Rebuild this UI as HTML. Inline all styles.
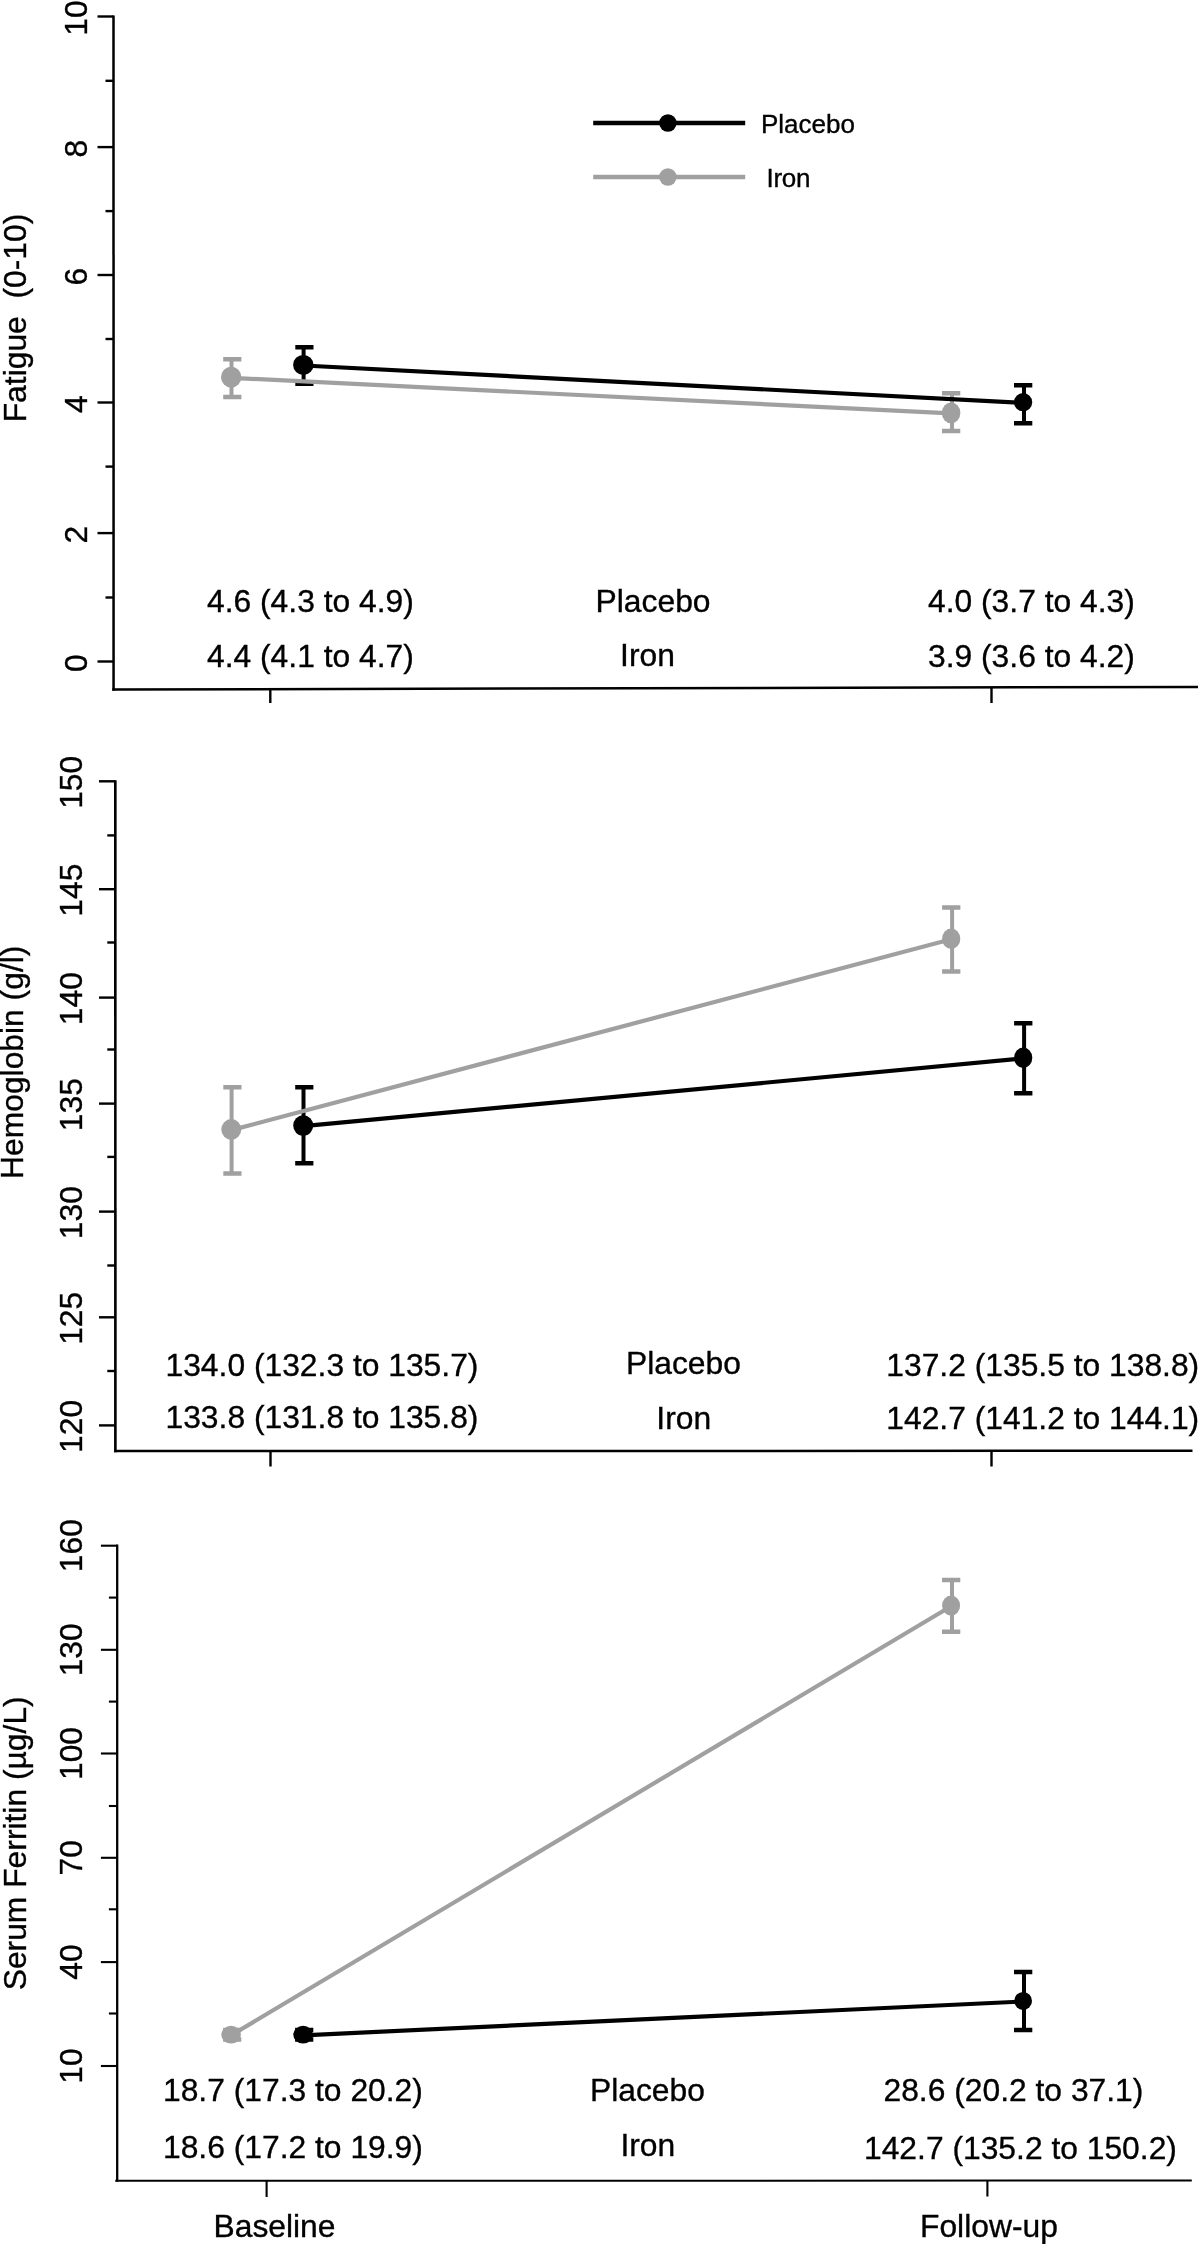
<!DOCTYPE html>
<html lang="en"><head><meta charset="utf-8"><title>Fatigue, Hemoglobin and Serum Ferritin: Placebo vs Iron</title>
<style>
html,body{margin:0;padding:0;background:#fff;}
svg{display:block;will-change:transform;opacity:0.999;}
text{font-family:"Liberation Sans",sans-serif;fill:#000;stroke:#000;stroke-width:0.35px;}
.t32{font-size:31.8px;}
.t26{font-size:26px;}
.ax{stroke:#000;stroke-width:2.6;fill:none;stroke-linecap:butt;}
.tk{stroke:#000;stroke-width:2.3;fill:none;}
</style></head><body>
<svg width="1200" height="2244" viewBox="0 0 1200 2244">
<rect x="0" y="0" width="1200" height="2244" fill="#fff"/>
<g>
<path class="ax" style="stroke-width:2.5" d="M113.5,15.4 L113.6,690.75"/>
<path class="ax" style="stroke-width:2.5" d="M112.25,689.5 L1198,686.9"/>
<path class="tk" style="stroke-width:2.4" d="M97.5,16.5 L113.5,16.5"/>
<path class="tk" style="stroke-width:2.4" d="M97.5,147.1 L113.5,147.1"/>
<path class="tk" style="stroke-width:2.4" d="M97.5,275.0 L113.5,275.0"/>
<path class="tk" style="stroke-width:2.4" d="M97.5,402.5 L113.5,402.5"/>
<path class="tk" style="stroke-width:2.4" d="M97.5,533.1 L113.5,533.1"/>
<path class="tk" style="stroke-width:2.4" d="M97.5,661.5 L113.5,661.5"/>
<path class="tk" style="stroke-width:2.4" d="M105.5,80.8 L113.5,80.8"/>
<path class="tk" style="stroke-width:2.4" d="M105.5,211.1 L113.5,211.1"/>
<path class="tk" style="stroke-width:2.4" d="M105.5,339.0 L113.5,339.0"/>
<path class="tk" style="stroke-width:2.4" d="M105.5,466.6 L113.5,466.6"/>
<path class="tk" style="stroke-width:2.4" d="M105.5,597.5 L113.5,597.5"/>
<path class="tk" style="stroke-width:2.4" d="M270.3,689 L270.3,703"/>
<path class="tk" style="stroke-width:2.4" d="M991.5,688 L991.5,703"/>
<text class="t32" text-anchor="middle" transform="translate(87.2,18.1) rotate(-90)">10</text>
<text class="t32" text-anchor="middle" transform="translate(87.2,148.7) rotate(-90)">8</text>
<text class="t32" text-anchor="middle" transform="translate(87.2,276.6) rotate(-90)">6</text>
<text class="t32" text-anchor="middle" transform="translate(87.2,404.1) rotate(-90)">4</text>
<text class="t32" text-anchor="middle" transform="translate(87.2,534.7) rotate(-90)">2</text>
<text class="t32" text-anchor="middle" transform="translate(87.2,663.1) rotate(-90)">0</text>
<text class="t32" xml:space="preserve" transform="translate(26.0,422.3) rotate(-90)">Fatigue  (0-10)</text>
<path d="M303.6,347.3 L303.6,383.7" stroke="#000" stroke-width="4.0" fill="none"/>
<path d="M295.3,347.3 L313.5,347.3 M295.3,383.7 L313.5,383.7" stroke="#000" stroke-width="4.5" fill="none"/>
<path d="M1024.0,385.3 L1024.0,423.3" stroke="#000" stroke-width="4.0" fill="none"/>
<path d="M1014.0,385.3 L1032.3,385.3 M1014.0,423.3 L1032.3,423.3" stroke="#000" stroke-width="4.5" fill="none"/>
<path d="M231.5,359.3 L231.5,397.1" stroke="#a0a0a0" stroke-width="4.0" fill="none"/>
<path d="M223.2,359.3 L241.4,359.3 M223.2,397.1 L241.4,397.1" stroke="#a0a0a0" stroke-width="4.5" fill="none"/>
<path d="M952.0,393.3 L952.0,430.9" stroke="#a0a0a0" stroke-width="4.0" fill="none"/>
<path d="M942.0,393.3 L960.3,393.3 M942.0,430.9 L960.3,430.9" stroke="#a0a0a0" stroke-width="4.5" fill="none"/>
<path d="M303.3,365.5 L1023.1,402.8" stroke="#000" stroke-width="4.2" fill="none"/>
<path d="M231.2,377.8 L951.1,413.4" stroke="#a0a0a0" stroke-width="4.2" fill="none"/>
<ellipse cx="303.3" cy="364.9" rx="10.2" ry="10.0" fill="#000"/>
<ellipse cx="1023.1" cy="402.2" rx="9.1" ry="9.1" fill="#000"/>
<ellipse cx="231.2" cy="377.2" rx="10.2" ry="10.5" fill="#a0a0a0"/>
<ellipse cx="951.1" cy="412.8" rx="9.3" ry="10.4" fill="#a0a0a0"/>
<text class="t32" x="207" y="612.4">4.6 (4.3 to 4.9)</text>
<text class="t32" x="207" y="667">4.4 (4.1 to 4.7)</text>
<text class="t32" x="595.6" y="612.2">Placebo</text>
<text class="t32" x="620.1" y="666.4">Iron</text>
<text class="t32" x="928" y="612">4.0 (3.7 to 4.3)</text>
<text class="t32" x="928" y="667">3.9 (3.6 to 4.2)</text>
<text class="t26" x="761" y="132.8">Placebo</text>
<text class="t26" x="766.6" y="187.1" style="letter-spacing:-0.35px">Iron</text>
</g>
<g>
<path d="M593.2,123 L745.2,123" stroke="#000" stroke-width="4.5"/>
<path d="M593.2,177 L745.2,177" stroke="#a0a0a0" stroke-width="4.5"/>
<circle cx="667.9" cy="123" r="8.7" fill="#000"/>
<circle cx="667.9" cy="177" r="8.7" fill="#a0a0a0"/>
</g>
<g>
<path class="ax" style="stroke-width:2.6" d="M115.3,780.2 L115.4,1452.25"/>
<path class="ax" style="stroke-width:2.5" d="M114.00,1451.0 L1192.5,1450.8"/>
<path class="tk" style="stroke-width:2.4" d="M99.0,781.3 L115.3,781.3"/>
<path class="tk" style="stroke-width:2.4" d="M99.0,889.2 L115.3,889.2"/>
<path class="tk" style="stroke-width:2.4" d="M99.0,997.6 L115.3,997.6"/>
<path class="tk" style="stroke-width:2.4" d="M99.0,1103.6 L115.3,1103.6"/>
<path class="tk" style="stroke-width:2.4" d="M99.0,1211.6 L115.3,1211.6"/>
<path class="tk" style="stroke-width:2.4" d="M99.0,1317.3 L115.3,1317.3"/>
<path class="tk" style="stroke-width:2.4" d="M99.0,1425.4 L115.3,1425.4"/>
<path class="tk" style="stroke-width:2.4" d="M107.3,835.4 L115.3,835.4"/>
<path class="tk" style="stroke-width:2.4" d="M107.3,942.5 L115.3,942.5"/>
<path class="tk" style="stroke-width:2.4" d="M107.3,1049.5 L115.3,1049.5"/>
<path class="tk" style="stroke-width:2.4" d="M107.3,1156.9 L115.3,1156.9"/>
<path class="tk" style="stroke-width:2.4" d="M107.3,1265.5 L115.3,1265.5"/>
<path class="tk" style="stroke-width:2.4" d="M107.3,1371.0 L115.3,1371.0"/>
<path class="tk" style="stroke-width:2.4" d="M270.5,1451 L270.5,1466.5"/>
<path class="tk" style="stroke-width:2.4" d="M991.5,1451 L991.5,1466.5"/>
<text class="t32" text-anchor="middle" transform="translate(81.8,782.3) rotate(-90)">150</text>
<text class="t32" text-anchor="middle" transform="translate(81.8,890.2) rotate(-90)">145</text>
<text class="t32" text-anchor="middle" transform="translate(81.8,998.6) rotate(-90)">140</text>
<text class="t32" text-anchor="middle" transform="translate(81.8,1104.6) rotate(-90)">135</text>
<text class="t32" text-anchor="middle" transform="translate(81.8,1212.6) rotate(-90)">130</text>
<text class="t32" text-anchor="middle" transform="translate(81.8,1318.3) rotate(-90)">125</text>
<text class="t32" text-anchor="middle" transform="translate(81.8,1426.4) rotate(-90)">120</text>
<text class="t32" xml:space="preserve" transform="translate(23.4,1178.9) rotate(-90)">Hemoglobin (g/l)</text>
<path d="M303.5,1087.3 L303.5,1163.3" stroke="#000" stroke-width="4.0" fill="none"/>
<path d="M295.2,1087.3 L313.4,1087.3 M295.2,1163.3 L313.4,1163.3" stroke="#000" stroke-width="4.5" fill="none"/>
<path d="M1024.1,1023.3 L1024.1,1093.3" stroke="#000" stroke-width="4.0" fill="none"/>
<path d="M1014.1,1023.3 L1032.4,1023.3 M1014.1,1093.3 L1032.4,1093.3" stroke="#000" stroke-width="4.5" fill="none"/>
<path d="M231.6,1087.3 L231.6,1173.6" stroke="#a0a0a0" stroke-width="4.0" fill="none"/>
<path d="M223.3,1087.3 L241.5,1087.3 M223.3,1173.6 L241.5,1173.6" stroke="#a0a0a0" stroke-width="4.5" fill="none"/>
<path d="M952.1,907.5 L952.1,971.5" stroke="#a0a0a0" stroke-width="4.0" fill="none"/>
<path d="M942.1,907.5 L960.4,907.5 M942.1,971.5 L960.4,971.5" stroke="#a0a0a0" stroke-width="4.5" fill="none"/>
<path d="M303.2,1126.2 L1023.2,1058.4" stroke="#000" stroke-width="4.2" fill="none"/>
<path d="M231.3,1130.1 L951.2,939.3" stroke="#a0a0a0" stroke-width="4.2" fill="none"/>
<ellipse cx="303.2" cy="1125.6" rx="10.0" ry="10.4" fill="#000"/>
<ellipse cx="1023.2" cy="1057.8" rx="9.1" ry="10.3" fill="#000"/>
<ellipse cx="231.3" cy="1129.5" rx="10.0" ry="10.4" fill="#a0a0a0"/>
<ellipse cx="951.2" cy="938.7" rx="9.1" ry="10.3" fill="#a0a0a0"/>
<text class="t32" x="165.5" y="1376.1">134.0 (132.3 to 135.7)</text>
<text class="t32" x="165.5" y="1427.7">133.8 (131.8 to 135.8)</text>
<text class="t32" x="626" y="1374.2">Placebo</text>
<text class="t32" x="656.3" y="1428.7">Iron</text>
<text class="t32" x="886.3" y="1376.3">137.2 (135.5 to 138.8)</text>
<text class="t32" x="886.3" y="1428.7">142.7 (141.2 to 144.1)</text>
</g>
<g>
<path class="ax" style="stroke-width:2.3" d="M117.2,1544.6 L117.2,2181.75"/>
<path class="ax" style="stroke-width:2.0" d="M115.25,2180.75 L1191.8,2180.6"/>
<path class="tk" style="stroke-width:2.1" d="M100.9,1545.7 L117.2,1545.7"/>
<path class="tk" style="stroke-width:2.1" d="M100.9,1649.8 L117.2,1649.8"/>
<path class="tk" style="stroke-width:2.1" d="M100.9,1753.5 L117.2,1753.5"/>
<path class="tk" style="stroke-width:2.1" d="M100.9,1857.8 L117.2,1857.8"/>
<path class="tk" style="stroke-width:2.1" d="M100.9,1962.1 L117.2,1962.1"/>
<path class="tk" style="stroke-width:2.1" d="M100.9,2066.0 L117.2,2066.0"/>
<path class="tk" style="stroke-width:2.1" d="M108.9,1597.6 L117.2,1597.6"/>
<path class="tk" style="stroke-width:2.1" d="M108.9,1701.6 L117.2,1701.6"/>
<path class="tk" style="stroke-width:2.1" d="M108.9,1806.0 L117.2,1806.0"/>
<path class="tk" style="stroke-width:2.1" d="M108.9,1909.3 L117.2,1909.3"/>
<path class="tk" style="stroke-width:2.1" d="M108.9,2013.5 L117.2,2013.5"/>
<path class="tk" style="stroke-width:2.1" d="M266.6,2180 L266.6,2197"/>
<path class="tk" style="stroke-width:2.1" d="M987.4,2180 L987.4,2196.5"/>
<text class="t32" text-anchor="middle" transform="translate(81.7,1545.7) rotate(-90)">160</text>
<text class="t32" text-anchor="middle" transform="translate(81.7,1649.8) rotate(-90)">130</text>
<text class="t32" text-anchor="middle" transform="translate(81.7,1753.5) rotate(-90)">100</text>
<text class="t32" text-anchor="middle" transform="translate(81.7,1857.8) rotate(-90)">70</text>
<text class="t32" text-anchor="middle" transform="translate(81.7,1962.1) rotate(-90)">40</text>
<text class="t32" text-anchor="middle" transform="translate(81.7,2066.0) rotate(-90)">10</text>
<text class="t32" xml:space="preserve" transform="translate(25.9,1990.3) rotate(-90)">Serum Ferritin (µg/L)</text>
<path d="M303.4,2030.0 L303.4,2039.4" stroke="#000" stroke-width="4.0" fill="none"/>
<path d="M295.1,2030.0 L313.3,2030.0 M295.1,2039.4 L313.3,2039.4" stroke="#000" stroke-width="4.5" fill="none"/>
<path d="M1024.0,1972.0 L1024.0,2030.0" stroke="#000" stroke-width="4.0" fill="none"/>
<path d="M1014.0,1972.0 L1032.3,1972.0 M1014.0,2030.0 L1032.3,2030.0" stroke="#000" stroke-width="4.5" fill="none"/>
<path d="M231.4,2030.0 L231.4,2039.4" stroke="#a0a0a0" stroke-width="4.0" fill="none"/>
<path d="M223.1,2030.0 L241.3,2030.0 M223.1,2039.4 L241.3,2039.4" stroke="#a0a0a0" stroke-width="4.5" fill="none"/>
<path d="M952.0,1580.0 L952.0,1631.7" stroke="#a0a0a0" stroke-width="4.0" fill="none"/>
<path d="M942.0,1580.0 L960.3,1580.0 M942.0,1631.7 L960.3,1631.7" stroke="#a0a0a0" stroke-width="4.5" fill="none"/>
<path d="M303.1,2035.3 L1023.1,2001.5" stroke="#000" stroke-width="4.2" fill="none"/>
<path d="M231.1,2035.3 L951.1,1606.2" stroke="#a0a0a0" stroke-width="4.2" fill="none"/>
<ellipse cx="303.1" cy="2034.7" rx="9.8" ry="8.9" fill="#000"/>
<ellipse cx="1023.1" cy="2000.9" rx="8.9" ry="9.0" fill="#000"/>
<ellipse cx="231.1" cy="2034.7" rx="9.8" ry="8.9" fill="#a0a0a0"/>
<ellipse cx="951.1" cy="1605.6" rx="9.0" ry="10.0" fill="#a0a0a0"/>
<text class="t32" x="163" y="2101.3">18.7 (17.3 to 20.2)</text>
<text class="t32" x="163" y="2158">18.6 (17.2 to 19.9)</text>
<text class="t32" x="590.0" y="2101.3">Placebo</text>
<text class="t32" x="620.4" y="2156">Iron</text>
<text class="t32" x="883.5" y="2101.4">28.6 (20.2 to 37.1)</text>
<text class="t32" x="864" y="2159.2">142.7 (135.2 to 150.2)</text>
<text class="t32" x="213.5" y="2237">Baseline</text>
<text class="t32" x="920" y="2236.5">Follow-up</text>
</g>
</svg>
</body></html>
